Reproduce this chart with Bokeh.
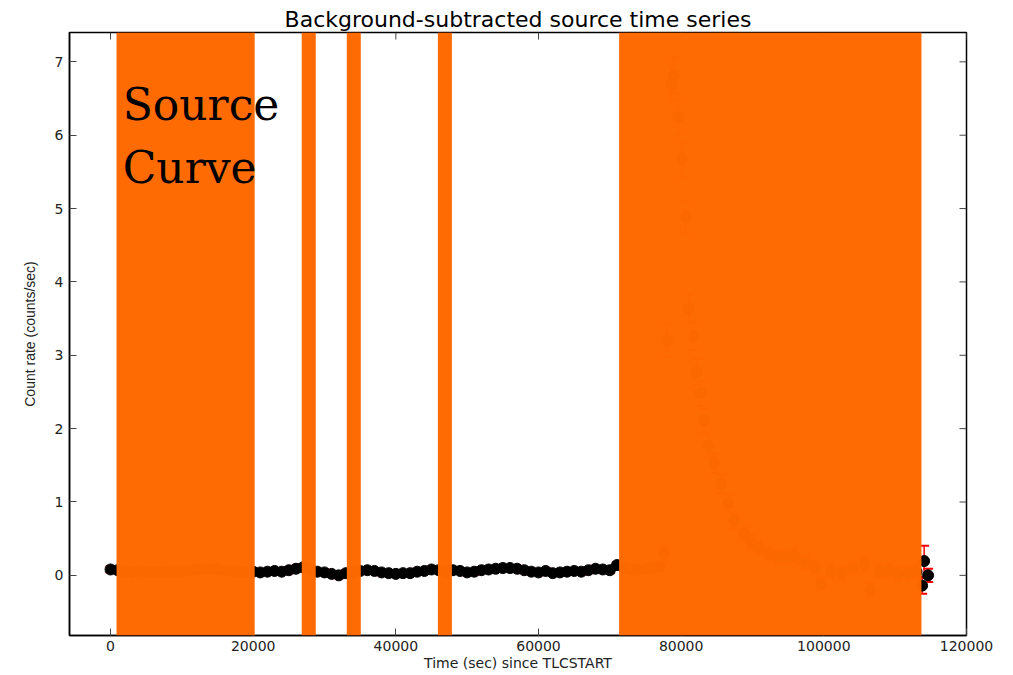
import math
from bokeh.plotting import figure
from bokeh.models import (Range1d, BoxAnnotation, Whisker, ColumnDataSource,
                          Label, TeeHead, FixedTicker, BasicTickFormatter)
from bokeh.embed import file_html
from bokeh.resources import INLINE

# ---------------- data ----------------
title_text = "Background-subtracted source time series"
x_label = "Time (sec) since TLCSTART"
y_label = "Count rate (counts/sec)"

times = [0, 1000, 2000, 3000, 4000, 5000, 6000, 7000, 8000, 9000,
         10000, 11000, 12000, 13000, 14000, 15000, 16000, 17000, 18000, 19000,
         20000, 21000, 22000, 23000, 24000, 25000, 26000, 27000, 28000, 29000,
         30000, 31000, 32000, 33000, 34000, 35000, 36000, 37000, 38000, 39000,
         40000, 41000, 42000, 43000, 44000, 45000, 46000, 47000, 48000, 49000,
         50000, 51000, 52000, 53000, 54000, 55000, 56000, 57000, 58000, 59000,
         60000, 61000, 62000, 63000, 64000, 65000, 66000, 67000, 68000, 69000,
         70000, 71000, 72000, 73000, 74000, 75000, 76000, 77000, 77600, 78000,
         78600, 79000, 79600, 80100, 80600, 81100, 81700, 82200, 82700, 83200,
         83800, 84600, 85600, 86600, 87400, 88800, 89800, 90800, 92200, 93600,
         94700, 95900, 97300, 98700, 99600, 101000, 102500, 104000, 105700, 106500,
         107800, 109100, 110500, 111900, 113000, 113780, 114060, 114620]

rates = [0.08, 0.07, 0.05, 0.05, 0.06, 0.05, 0.04, 0.05, 0.05, 0.06,
         0.05, 0.07, 0.08, 0.09, 0.08, 0.09, 0.07, 0.06, 0.05, 0.04,
         0.05, 0.04, 0.05, 0.06, 0.05, 0.07, 0.09, 0.11, 0.08, 0.05,
         0.04, 0.02, 0.00, 0.03, 0.04, 0.06, 0.07, 0.06, 0.04, 0.03,
         0.02, 0.03, 0.03, 0.05, 0.06, 0.08, 0.07, 0.05, 0.07, 0.06,
         0.04, 0.05, 0.07, 0.08, 0.09, 0.10, 0.10, 0.09, 0.07, 0.05,
         0.04, 0.06, 0.03, 0.04, 0.05, 0.06, 0.05, 0.07, 0.09, 0.08,
         0.07, 0.14, 0.10, 0.08, 0.07, 0.09, 0.10, 0.12, 0.30, 3.20,
         6.70, 6.81, 6.25, 5.67, 4.88, 3.64, 3.26, 2.77, 2.48, 2.11,
         1.77, 1.53, 1.25, 0.98, 0.75, 0.57, 0.45, 0.38, 0.30, 0.25,
         0.24, 0.27, 0.18, 0.11, -0.11, 0.05, 0.03, 0.10, 0.16, -0.20,
         0.05, 0.07, 0.02, 0.03, 0.05, -0.14, 0.195, 0.00]

errors = [0.04] * 77 + [0.05, 0.10, 0.22,
          0.25, 0.25, 0.24, 0.23, 0.22, 0.20, 0.19, 0.18, 0.17, 0.16,
          0.15, 0.14, 0.13, 0.12, 0.11, 0.10, 0.10, 0.09, 0.09, 0.09,
          0.09, 0.09, 0.09, 0.09, 0.09, 0.09, 0.09, 0.09, 0.09, 0.09,
          0.09, 0.09, 0.09, 0.09, 0.09, 0.11, 0.21, 0.09]

# excluded (orange) time intervals
band_starts = [842, 26807, 33122, 45895, 71298]
band_ends = [20210, 28772, 35088, 47860, 113684]

x_ticks = [0, 20000, 40000, 60000, 80000, 100000, 120000]
y_ticks = [0, 1, 2, 3, 4, 5, 6, 7]
x_limits = (-5750, 120000)
y_limits = (-0.82, 7.4)

annotation_lines = ["Source", "Curve"]
annotation_x = 1700
annotation_baselines = [6.42, 5.56]

# ---------------- figure ----------------
p = figure(width=1013, height=675, output_backend="svg", toolbar_location=None,
           x_range=Range1d(*x_limits), y_range=Range1d(*y_limits),
           min_border_left=69, min_border_right=47, min_border_top=32, min_border_bottom=40,
           title=title_text)
p.background_fill_color = "white"
p.border_fill_color = "white"
p.outline_line_color = "black"
p.outline_line_width = 1.5
p.xgrid.visible = False
p.ygrid.visible = False

p.title.align = "center"
p.title.text_font = "DejaVu Sans"
p.title.text_font_size = "22px"
p.title.text_font_style = "normal"
p.title.text_color = "black"
p.title.standoff = 2
p.title.offset = 0

for ax in (p.xaxis[0], p.yaxis[0]):
    ax.major_tick_in = 7
    ax.major_tick_out = 0
    ax.minor_tick_line_color = None
    ax.major_tick_line_color = "#444444"
    ax.axis_line_color = "black"
    ax.axis_line_width = 1.5
    ax.major_label_text_font = "DejaVu Sans"
    ax.major_label_text_font_size = "14px"
    ax.major_label_text_color = "#222222"

p.xaxis.ticker = FixedTicker(ticks=x_ticks)
p.yaxis.ticker = FixedTicker(ticks=y_ticks)
p.xaxis.formatter = BasicTickFormatter(use_scientific=False)
p.xaxis.major_label_standoff = 5
p.yaxis.major_label_standoff = 6

p.xaxis.axis_label = x_label
p.xaxis.axis_label_text_font = "DejaVu Sans"
p.xaxis.axis_label_text_font_size = "14px"
p.xaxis.axis_label_text_font_style = "normal"
p.xaxis.axis_label_text_color = "#222222"
p.xaxis.axis_label_standoff = 1

p.yaxis.axis_label = y_label
p.yaxis.axis_label_text_font = "Liberation Sans"
p.yaxis.axis_label_text_font_size = "14px"
p.yaxis.axis_label_text_font_style = "normal"
p.yaxis.axis_label_text_color = "#222222"
p.yaxis.axis_label_standoff = 14

# mirrored inward ticks on the top and right edges (matplotlib box style)
p.ray(x=x_ticks, y=[y_limits[1]] * len(x_ticks), length=7, length_units="screen",
      angle=-math.pi / 2, line_color="#444444", line_width=1)
p.ray(x=[x_limits[1]] * len(y_ticks), y=y_ticks, length=7, length_units="screen",
      angle=math.pi, line_color="#444444", line_width=1)

# data with error bars
src = ColumnDataSource(dict(
    t=times, y=rates,
    lo=[r - e for r, e in zip(rates, errors)],
    hi=[r + e for r, e in zip(rates, errors)],
))
wh = Whisker(base="t", upper="hi", lower="lo", source=src, dimension="height",
             line_color="red", line_width=1.5, level="underlay",
             upper_head=TeeHead(size=10, line_color="red", line_width=2),
             lower_head=TeeHead(size=10, line_color="red", line_width=2))
p.add_layout(wh)
p.scatter(x="t", y="y", source=src, size=11, fill_color="black", line_color="black")

# orange masks
for s, e in zip(band_starts, band_ends):
    p.add_layout(BoxAnnotation(left=s, right=e, fill_color="#ff6900", fill_alpha=0.99,
                               line_color=None, level="annotation"))

# big annotation text
for txt, yb in zip(annotation_lines, annotation_baselines):
    p.add_layout(Label(x=annotation_x, y=yb, text=txt, text_font="DejaVu Serif",
                       text_font_size="44px", text_color="black", text_baseline="alphabetic",
                       text_align="left"))

open("out.html", "w").write(file_html(p, INLINE))
